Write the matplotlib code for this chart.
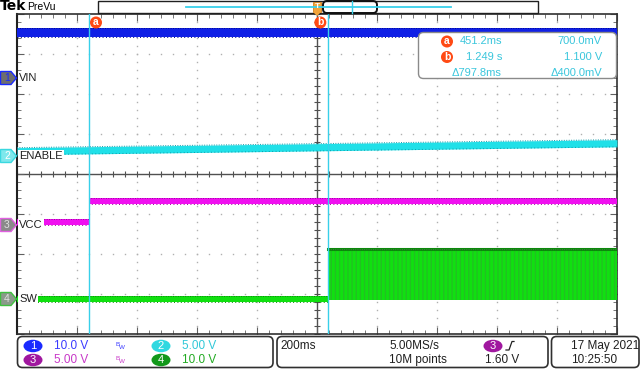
import numpy as np
import matplotlib
matplotlib.use('Agg')
import matplotlib.pyplot as plt
from matplotlib.patches import FancyBboxPatch, Ellipse, Polygon, Rectangle, Circle

# ---------------- data ----------------
time_per_div = 0.2          # s/div
t_left = 0.2112             # s, left edge of screen
n_hdiv = 10
n_vdiv = 8

channel_names = ['VIN', 'ENABLE', 'VCC', 'SW']
volts_per_div = [10.0, 5.0, 5.0, 10.0]
offsets_div = [2.39, 0.44, -1.29, -3.14]

vin_t = [0.2112, 2.2112]
vin_v = [11.4, 11.4]
vin_noise = 1.1

enable_t = [0.2112, 2.2112]
enable_v = [0.58, 1.58]
enable_noise = 0.45

vcc_t = [0.2112, 0.4512, 0.4512, 2.2112]
vcc_v = [0.38, 0.38, 3.0, 3.0]
vcc_noise = 0.38

sw_low_t = [0.2112, 1.249]
sw_low_v = [0.1, 0.1]
sw_noise = 0.7
sw_switch_t = [1.249, 2.2112]
sw_switch_low = [-0.2, -0.2]
sw_switch_high = [12.5, 12.5]

cursor_t = [0.4512, 1.249]
cursor_names = ['a', 'b']
readout_time = ['451.2ms', '1.249 s', '\u0394797.8ms']
readout_volt = ['700.0mV', '1.100 V', '\u0394400.0mV']

scale_labels = ['10.0 V', '5.00 V', '5.00 V', '10.0 V']
timebase = '200ms'
sample_rate = '5.00MS/s'
record_len = '10M points'
trigger_ch = '3'
trigger_level = '1.60 V'
date_str = '17 May 2021'
time_str = '10:25:50'

# ---------------- colours ----------------
C_BLUE = '#1020e6'
C_BLUE_D = '#000a90'
C_CYAN = '#20e0e8'
C_CYAN_D = '#109aa8'
C_MAG = '#f010f0'
C_MAG_D = '#a000a0'
C_GRN = '#10e010'
C_GRN_D = '#0a8a0a'
C_CUR = '#38d0ea'
C_ORANGE = '#ff4a14'

FONT = ['Liberation Sans', 'DejaVu Sans']
plt.rcParams['font.family'] = FONT

fig = plt.figure(figsize=(6.4, 3.84), dpi=100)
fig.patch.set_facecolor('white')

ax = fig.add_axes([17 / 640, 1 - 333.5 / 384, 600 / 640, 320 / 384])
t_right = t_left + n_hdiv * time_per_div
ax.set_xlim(t_left, t_right)
ax.set_ylim(-n_vdiv / 2, n_vdiv / 2)


def to_div(v, ch):
    return offsets_div[ch] + np.asarray(v, dtype=float) / volts_per_div[ch]


# graticule dots
minor_x = t_left + np.arange(0, n_hdiv + 0.001, 0.2) * time_per_div
minor_y = np.arange(-n_vdiv / 2, n_vdiv / 2 + 0.001, 0.2)
for k in range(1, n_hdiv):
    if k == n_hdiv // 2:
        continue
    x = t_left + k * time_per_div
    ax.plot(np.full(minor_y.size, x), minor_y, ls='none', marker='s', ms=1.0,
            mew=0, color='#b0b0b0', zorder=1)
for j in range(-n_vdiv // 2 + 1, n_vdiv // 2):
    if j == 0:
        continue
    ax.plot(minor_x, np.full(minor_x.size, j), ls='none', marker='s', ms=1.0,
            mew=0, color='#b0b0b0', zorder=1)

xc = t_left + n_hdiv / 2 * time_per_div
ax.axvline(xc, color='#505050', lw=1.0, zorder=1.5)
ax.axhline(0, color='#505050', lw=1.0, zorder=1.5)
ax.plot(minor_x, np.zeros(minor_x.size), ls='none', marker='|', ms=5, mew=0.8,
        color='#505050', zorder=1.5)
ax.plot(np.full(minor_y.size, xc), minor_y, ls='none', marker='_', ms=5, mew=0.8,
        color='#505050', zorder=1.5)

ax.set_xticks(t_left + np.arange(0, n_hdiv + 0.001, 1) * time_per_div)
ax.set_xticks(minor_x, minor=True)
ax.set_yticks(np.arange(-n_vdiv / 2, n_vdiv / 2 + 0.001, 1))
ax.set_yticks(minor_y, minor=True)
ax.tick_params(which='both', direction='in', top=True, right=True,
               labelbottom=False, labelleft=False, color='#606060')
ax.tick_params(which='major', length=5, width=0.8)
ax.tick_params(which='minor', length=3, width=0.6)
for side, sp in ax.spines.items():
    sp.set_color('#303030')
    sp.set_linewidth(1.2)
ax.spines['left'].set_color('#202020')
ax.spines['left'].set_linewidth(1.5)

# traces
def band(t, v, noise, ch, fc, ec):
    v = np.asarray(v, dtype=float)
    lo = to_div(v - noise, ch)
    hi = to_div(v + noise, ch)
    ax.fill_between(t, lo, hi, color=fc, lw=0, zorder=3)
    ax.plot(t, hi, color=ec, lw=0.7, ls=(0, (1, 1.5)), zorder=3.1)
    ax.plot(t, lo, color=ec, lw=0.7, ls=(0, (1, 2.5)), zorder=3.1)

band(vin_t, vin_v, vin_noise, 0, C_BLUE, C_BLUE_D)
band(enable_t, enable_v, enable_noise, 1, C_CYAN, C_CYAN_D)
band(vcc_t, vcc_v, vcc_noise, 2, C_MAG, C_MAG_D)
band(sw_low_t, sw_low_v, sw_noise, 3, C_GRN, C_GRN_D)
ax.fill_between(sw_switch_t, to_div(sw_switch_low, 3), to_div(sw_switch_high, 3),
                facecolor=C_GRN, edgecolor='#22c022', hatch='||||', lw=0, zorder=3)
ax.plot(sw_switch_t, to_div(sw_switch_high, 3), color=C_GRN_D, lw=2.2, zorder=3.2)
ax.plot(sw_switch_t, to_div(sw_switch_high, 3), color='#3a7a3a', lw=0.8,
        ls=(0, (1, 1)), zorder=3.3)

for tc in cursor_t:
    ax.axvline(tc, color=C_CUR, lw=1.0, zorder=4)

# ---------------- overlay in pixel coordinates ----------------
ov = fig.add_axes([0, 0, 1, 1])
ov.set_xlim(0, 640)
ov.set_ylim(384, 0)
ov.axis('off')
ov.patch.set_alpha(0)

# header
ov.text(-0.5, 6.5, 'Tek', fontsize=10, fontweight='bold', ha='left', va='center',
        family=['DejaVu Sans'])
ov.text(27, 6.5, 'PreVu', fontsize=7.5, ha='left', va='center')
ov.add_patch(Rectangle((97.5, 0.5), 440, 12.5, fc='white', ec='#202020', lw=1.0))
ov.plot([186, 451], [6.5, 6.5], color=C_CUR, lw=1.3)
ov.plot([352, 352], [1, 12.5], color=C_CUR, lw=1.0)
ov.add_patch(FancyBboxPatch((323, 1), 54, 12, boxstyle='round,pad=0,rounding_size=4',
                            fc='none', ec='#101010', lw=1.4))
# trigger position marker
xt = 17 + (xc - t_left) / time_per_div * 60
ov.add_patch(Rectangle((xt - 4, 2), 8, 10, fc='#f2a43a', ec='#d08020', lw=0.6))
ov.add_patch(Polygon([(xt - 4, 12), (xt + 4, 12), (xt, 16)], closed=True,
                     fc='#f2a43a', ec='none'))
ov.text(xt, 7, 'T', fontsize=6, color='white', ha='center', va='center', fontweight='bold')

# cursor labels at top
for tc, nm, dx in zip(cursor_t, cursor_names, [7, -8]):
    xp = 17 + (tc - t_left) / time_per_div * 60 + dx
    ov.add_patch(Circle((xp, 22.5), 6, fc=C_ORANGE, ec='none', zorder=5))
    ov.text(xp, 22.3, nm, fontsize=7.5, color='white', ha='center', va='center',
            fontweight='bold', zorder=6)

# readout box
ov.add_patch(FancyBboxPatch((418.5, 32.5), 198, 46, boxstyle='round,pad=0,rounding_size=5',
                            fc='white', ec='#8a8a8a', lw=1.0, zorder=5))
for i in range(3):
    yy = 41.5 + i * 15.5
    if i < 2:
        ov.add_patch(Circle((447, yy), 6, fc=C_ORANGE, ec='none', zorder=6))
        ov.text(447, yy - 0.3, cursor_names[i], fontsize=7.5, color='white', ha='center',
                va='center', fontweight='bold', zorder=7)
    ov.text(502, yy, readout_time[i], fontsize=8, color='#3ac6dc', ha='right',
            va='center', zorder=7)
    ov.text(602, yy, readout_volt[i], fontsize=8, color='#3ac6dc', ha='right',
            va='center', zorder=7)

# channel tags + names
tag_y = [78, 156, 225, 299]
tag_fc = ['#6e6e6e', '#7ee8ec', '#8a8a8a', '#8a9a8a']
tag_ec = ['#1a2aff', '#3ad8e0', '#e060e0', '#40c040']
tag_tc = ['#1a2aff', 'white', '#e0e0e0', '#e0e0e0']
for i in range(4):
    y = tag_y[i]
    ov.add_patch(Polygon([(0.5, y - 6.5), (11, y - 6.5), (16.5, y), (11, y + 6.5),
                          (0.5, y + 6.5)], closed=True, fc=tag_fc[i], ec=tag_ec[i],
                         lw=1.0, zorder=5))
    ov.text(7, y + 0.3, str(i + 1), fontsize=7.5, color=tag_tc[i], ha='center',
            va='center', zorder=6)
    ov.text(19, y, channel_names[i], fontsize=8, color='#202020', ha='left',
            va='center', zorder=6,
            bbox=dict(boxstyle='square,pad=0.1', fc='white', ec='none'))

# bottom panels
for (x0, x1) in [(17.5, 273), (277, 548), (551.5, 639)]:
    ov.add_patch(FancyBboxPatch((x0, 336.5), x1 - x0, 31, boxstyle='round,pad=0,rounding_size=5',
                                fc='white', ec='#303030', lw=1.2))
row_y = [346, 360]
ch_circle_fc = ['#1a2aff', '#30d8e0', '#a0179f', '#12981a']
ch_text_c = ['#3a3aff', '#30c8d8', '#c838c8', '#22aa22']
circ_pos = [(33, row_y[0]), (161, row_y[0]), (33, row_y[1]), (161, row_y[1])]
for i in range(4):
    cx, cy = circ_pos[i]
    ov.add_patch(Ellipse((cx, cy), 19, 12.5, fc=ch_circle_fc[i], ec='none'))
    ov.text(cx, cy + 0.3, str(i + 1), fontsize=8, color='white', ha='center', va='center')
    ov.text(cx + 21, cy, scale_labels[i], fontsize=8.5, color=ch_text_c[i], ha='left',
            va='center')
for i, c in [(0, '#3a3aff'), (2, '#c838c8')]:
    cy = circ_pos[i][1]
    ov.text(116, cy - 2, 'B', fontsize=4.5, color=c, ha='left', va='center')
    ov.text(119, cy + 1.5, 'W', fontsize=4.5, color=c, ha='left', va='center')

ov.text(280, row_y[0], timebase, fontsize=8.5, color='#202020', ha='left', va='center')
ov.text(389, row_y[0], sample_rate, fontsize=8.5, color='#202020', ha='left', va='center')
ov.text(389, row_y[1], record_len, fontsize=8.5, color='#202020', ha='left', va='center')
ov.add_patch(Ellipse((493, row_y[0]), 19, 12.5, fc='#a0179f', ec='none'))
ov.text(493, row_y[0] + 0.3, trigger_ch, fontsize=8, color='white', ha='center', va='center')
ov.plot([506, 509, 512, 514], [350, 350, 341.5, 341.5], color='#202020', lw=0.9)
ov.text(485, row_y[1], trigger_level, fontsize=8.5, color='#202020', ha='left', va='center')
ov.text(571, row_y[0], date_str, fontsize=8.5, color='#202020', ha='left', va='center')
ov.text(571, row_y[1], time_str, fontsize=8.5, color='#202020', ha='left', va='center')

fig.savefig('out.png', dpi=100, facecolor='white')
